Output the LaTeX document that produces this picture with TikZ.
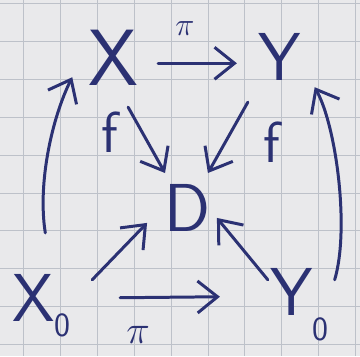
\documentclass[tikz,border=0pt]{standalone}
\usetikzlibrary{arrows.meta}

\definecolor{ink}{HTML}{2B3173}
\definecolor{paper}{HTML}{E9E9EB}
\definecolor{gridline}{HTML}{BDC1C9}

\tikzset{
  obj/.style={text=ink, inner sep=0pt, font=\sffamily\fontsize{68}{68}\selectfont},
  lbl/.style={text=ink, inner sep=0pt, font=\sffamily\fontsize{58}{58}\selectfont},
  pilbl/.style={text=ink, inner sep=0pt, font=\fontsize{25}{25}\selectfont},
  map/.style={draw=ink, line width=3pt, line cap=round, line join=round,
    -{Straight Barb[length=20pt,width=32pt]}},
}

\begin{document}
\begin{tikzpicture}[x=1pt,y=-1pt]
    % Squared paper
    \fill[paper] (0,0) rectangle (360,356);
    \foreach \gx in {23,60,...,360} \draw[gridline, line width=0.8pt] (\gx,0) -- (\gx,356);
    \foreach \gy in {3,41,...,356} \draw[gridline, line width=0.8pt] (0,\gy) -- (360,\gy);
    \useasboundingbox (0,0) rectangle (360,356);

    % Objects
    \node[obj, font=\sffamily\fontsize{80}{80}\selectfont] (X) at (113,58) {X};
    \node[obj] (Y) at (280,57) {Y};
    \node[obj] (D) at (188,208) {D};
    \node[obj] (X0) at (33,298) {X\rlap{\smash{\raisebox{-15pt}{\fontsize{34}{34}\selectfont 0}}}};
    \node[obj] (Y0) at (292,292) {Y\rlap{\smash{\raisebox{-25pt}{\fontsize{34}{34}\selectfont 0}}}};

    % Labels
    \node[pilbl] (piT) at (185,28) {\scalebox{1.3}{$\pi$}};
    \node[pilbl] (piB) at (138,335) {\scalebox{1.6}{$\pi$}};
    \node[lbl] (fL) at (110,132) {f};
    \node[lbl] (fR) at (272,142) {f};

    % Horizontal maps
    \draw[map] ([shift={(45,5)}]X.center) -- ([shift={(-43,6)}]Y.center);
    \draw[map] ([shift={(87,0)}]X0.center) -- ([shift={(-72,5)}]Y0.center);

    % Maps into D
    \draw[map] ([shift={(15,49)}]X.center) -- ([shift={(-23,-35)}]D.center);
    \draw[map] ([shift={(-32,45)}]Y.center) -- ([shift={(20,-35)}]D.center);
    \draw[map] ([shift={(59,-18)}]X0.center) -- ([shift={(-41,15)}]D.center);
    \draw[map] ([shift={(-24,-12)}]Y0.center) -- ([shift={(29,10)}]D.center);

    % Curved maps up
    \draw[map] ([shift={(12,-65)}]X0.center) .. controls +(-8,-50) and +(-20,40) .. ([shift={(-41,19)}]X.center);
    \draw[map] ([shift={(43,-12)}]Y0.center) .. controls +(15,-50) and +(22,40) .. ([shift={(35,30)}]Y.center);
\end{tikzpicture}
\end{document}
